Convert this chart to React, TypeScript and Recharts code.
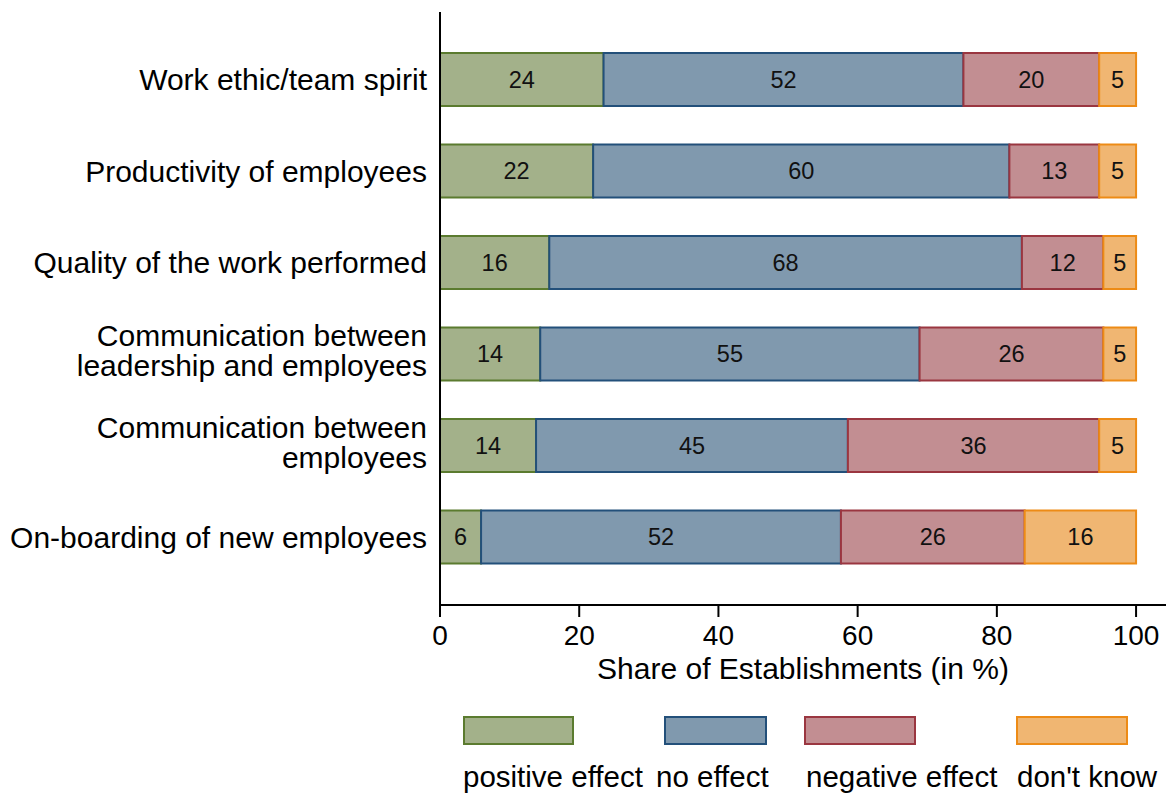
import React from 'react';
import { BarChart, Bar, XAxis, YAxis, LabelList, Label } from 'recharts';

// categories, top to bottom
const categories = [
  'Work ethic/team spirit',
  'Productivity of employees',
  'Quality of the work performed',
  'Communication between\nleadership and employees',
  'Communication between\nemployees',
  'On-boarding of new employees',
];

// shares in %
const positiveEffect = [23.5, 22.0, 15.7, 14.4, 13.8, 5.9];
const noEffect = [51.7, 59.8, 67.9, 54.5, 44.8, 51.7];
const negativeEffect = [19.5, 12.9, 11.7, 26.4, 36.1, 26.4];
const dontKnow = [5.3, 5.3, 4.7, 4.7, 5.3, 16.0];

const xTicks = [0, 20, 40, 60, 80, 100];

const SERIES = [
  { key: 'positive', name: 'positive effect', fill: '#a3b18a', stroke: '#5b7b2f' },
  { key: 'none', name: 'no effect', fill: '#8099ae', stroke: '#23507a' },
  { key: 'negative', name: 'negative effect', fill: '#c28e92', stroke: '#9a3640' },
  { key: 'unknown', name: "don't know", fill: '#f0b672', stroke: '#ed8b16' },
];

const data = categories.map((name, i) => ({
  name,
  positive: positiveEffect[i],
  none: noEffect[i],
  negative: negativeEffect[i],
  unknown: dontKnow[i],
}));

const FONT = '"Liberation Sans", Arial, sans-serif';

const CategoryTick = (props: any) => {
  const { x, y, payload } = props;
  const lines = String(payload.value).split('\n');
  const lh = 30;
  const shift = lines.length > 1 ? -3.5 : 0;
  return (
    <text x={x} y={y} textAnchor="end" fontSize={30} fill="#000" fontFamily={FONT}>
      {lines.map((l, i) => (
        <tspan key={i} x={x} dy={i === 0 ? -((lines.length - 1) / 2) * lh + 10.5 + shift : lh}>
          {l}
        </tspan>
      ))}
    </text>
  );
};

// legend key positions (box left, label left)
const LEGEND_POS = [
  { box: 463, w: 111, text: 463 },
  { box: 664, w: 103, text: 656 },
  { box: 804, w: 112, text: 806 },
  { box: 1016, w: 112, text: 1017 },
];

export default function App() {
  return (
    <div style={{ position: 'absolute', left: 0, top: 0, width: 1168, height: 796, background: '#fff', fontFamily: FONT }}>
      <BarChart
        width={1168}
        height={796}
        data={data}
        layout="vertical"
        margin={{ top: 12, right: 2, left: 0, bottom: 111 }}
        barSize={53}
      >
        <XAxis
          type="number"
          domain={[0, 104.3]}
          ticks={xTicks}
          allowDataOverflow
          height={80}
          tickSize={12}
          tickMargin={8}
          stroke="#000"
          strokeWidth={2}
          tick={{ fontSize: 28, fill: '#000', fontFamily: FONT }}
        >
          <Label
            value="Share of Establishments (in %)"
            position="insideBottom"
            offset={6}
            style={{ fontSize: 30, fill: '#000', fontFamily: FONT }}
          />
        </XAxis>
        <YAxis
          type="category"
          dataKey="name"
          width={440}
          tickLine={false}
          tickSize={0}
          tickMargin={13}
          stroke="#000"
          strokeWidth={2}
          padding={{ top: 22, bottom: 22 }}
          interval={0}
          tick={<CategoryTick />}
        />
        {SERIES.map((s) => (
          <Bar
            key={s.key}
            dataKey={s.key}
            name={s.name}
            stackId="a"
            fill={s.fill}
            stroke={s.stroke}
            strokeWidth={2}
            isAnimationActive={false}
          >
            <LabelList
              dataKey={s.key}
              position="center"
              formatter={(v: any) => Math.round(Number(v))}
              style={{ fontSize: 23.5, fill: '#111', fontFamily: FONT }}
            />
          </Bar>
        ))}
      </BarChart>
      {SERIES.map((s, i) => (
        <React.Fragment key={s.key}>
          <div
            style={{
              position: 'absolute',
              left: LEGEND_POS[i].box,
              top: 716,
              width: LEGEND_POS[i].w - 4,
              height: 25,
              background: s.fill,
              border: `2px solid ${s.stroke}`,
            }}
          />
          <div
            style={{
              position: 'absolute',
              left: LEGEND_POS[i].text,
              top: 760,
              fontSize: 29.5,
              lineHeight: '34px',
              color: '#000',
              whiteSpace: 'nowrap',
            }}
          >
            {s.name}
          </div>
        </React.Fragment>
      ))}
    </div>
  );
}
